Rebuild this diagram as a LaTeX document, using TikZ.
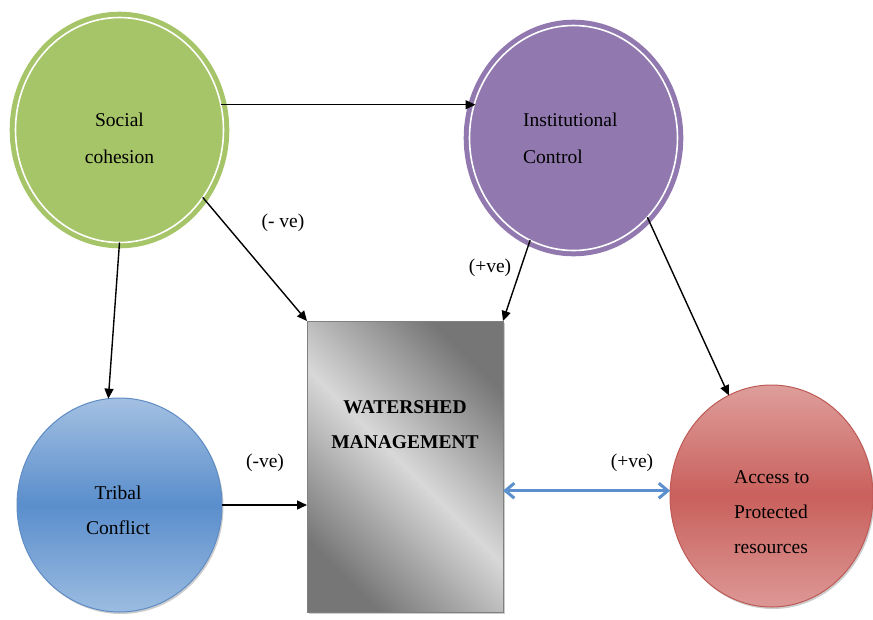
\documentclass[tikz,border=0pt]{standalone}
\usepackage{fontspec}
\setmainfont{Liberation Serif}
\usetikzlibrary{arrows.meta,shapes.geometric,shadows,calc}
\definecolor{grn}{RGB}{166,196,104}
\definecolor{prp}{RGB}{145,121,176}
\definecolor{bluetop}{RGB}{163,192,226}
\definecolor{bluemid}{RGB}{90,142,204}
\definecolor{bluebot}{RGB}{155,188,225}
\definecolor{blueline}{RGB}{95,140,196}
\definecolor{redtop}{RGB}{222,158,155}
\definecolor{redmid}{RGB}{201,96,92}
\definecolor{redbot}{RGB}{220,152,150}
\definecolor{redline}{RGB}{190,90,86}
\definecolor{graydark}{RGB}{118,118,118}
\definecolor{graylight}{RGB}{216,216,216}
\definecolor{arrblue}{RGB}{91,143,205}
\begin{document}
\begin{tikzpicture}[x=1pt,y=-1pt,
  txt/.style={font=\fontsize{19.5}{35}\selectfont, inner sep=0pt},
  ring/.style={ellipse, inner sep=0pt, outer sep=0pt, line width=5pt, double=white, double distance=1.6pt},
  plainell/.style={ellipse, inner sep=0pt, outer sep=0pt, line width=1pt},
  sh/.style={drop shadow={shadow xshift=1.5pt, shadow yshift=-2pt, opacity=0.2, fill=black}},
  arr/.style={line width=1.4pt, -{Triangle[length=10pt,width=9pt]}},
  blarr/.style={line width=3pt, draw=arrblue, {Straight Barb[length=9pt,width=15pt]}-{Straight Barb[length=9pt,width=15pt]}}]
\useasboundingbox (0,0) rectangle (873,619);

% nodes
\node[ring, draw=grn, fill=grn, minimum width=208pt, minimum height=225pt] (soc) at (119.5,130) {};
\node[ring, draw=prp, fill=prp, minimum width=208pt, minimum height=225pt] (inst) at (573.5,138) {};
\node[plainell, sh, draw=blueline, top color=bluetop, bottom color=bluebot, middle color=bluemid,
      minimum width=205pt, minimum height=214pt] (trib) at (119.5,505) {};
\node[plainell, sh, draw=redline, top color=redtop, bottom color=redbot, middle color=redmid,
      minimum width=203pt, minimum height=222pt] (acc) at (771.5,496) {};
\node[rectangle, sh, draw=gray, line width=0.8pt, inner sep=0pt, outer sep=0pt,
      top color=graydark, bottom color=graydark, middle color=graylight, shading angle=-45,
      minimum width=196pt, minimum height=291pt] (box) at (405,466.5) {};

% texts
\node[txt, font=\fontsize{19.5}{37}\selectfont, align=center] (socT) at (119.5,138.5) {Social\\cohesion};
\node[txt, font=\fontsize{19.5}{37}\selectfont, align=left, anchor=west] (instT) at (523,138.5) {Institutional\\Control};
\node[txt, align=center] (tribT) at (118,510) {Tribal\\Conflict};
\node[txt, align=left, anchor=west] (accT) at (734,512.5) {Access to\\Protected\\resources};
\node[txt, font=\fontsize{19.5}{35}\selectfont\bfseries, align=center] (boxT) at (405,424.5) {WATERSHED\\MANAGEMENT};

% labels
\node[txt] (l1) at (283,223) {(- ve)};
\node[txt] (l2) at (490,268) {(+ve)};
\node[txt] (l3) at (265,463) {(-ve)};
\node[txt] (l4) at (632,463) {(+ve)};

% connectors
\draw[arr] (soc.14) -- ($(soc.14 -| inst.west)+(6,0)$);
\draw[arr] (soc.-39) -- (box.north west);
\draw[arr] (inst.247) -- (box.north east);
\draw[arr] (inst.-47.5) -- (acc.113);
\draw[arr] (soc.-90) -- (trib.96);
\draw[arr] (trib.east) -- (trib.east -| box.west);
\draw[blarr] (acc.177 -| box.east) -- (acc.177);
\end{tikzpicture}
\end{document}
